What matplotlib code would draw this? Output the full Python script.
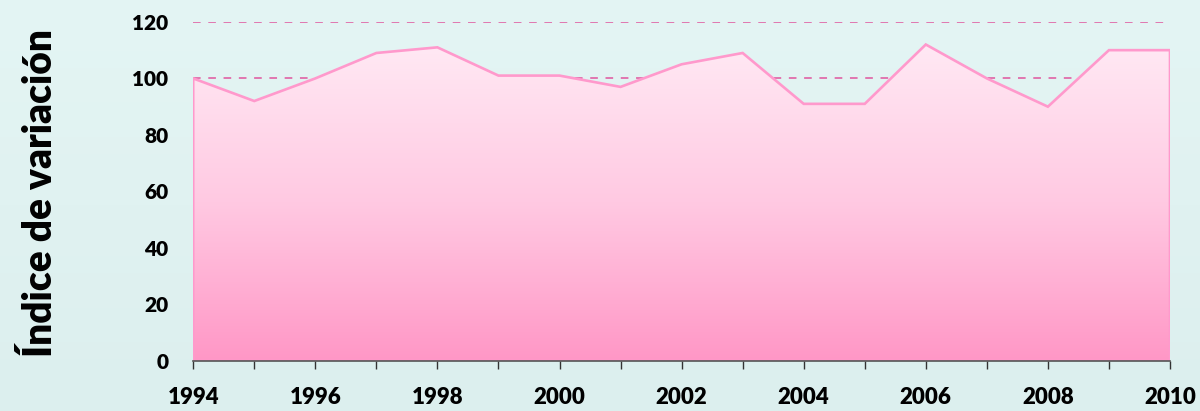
import matplotlib.pyplot as plt
from matplotlib.colors import LinearSegmentedColormap
from matplotlib.patches import Polygon
import numpy as np

# Yearly variation index
years = [1994, 1995, 1996, 1997, 1998, 1999, 2000, 2001, 2002,
         2003, 2004, 2005, 2006, 2007, 2008, 2009, 2010]
index = [100, 92, 100, 109, 111, 101, 101, 97, 105,
         109, 91, 91, 112, 100, 90, 110, 110]

yticks = [0, 20, 40, 60, 80, 100, 120]
xticks = list(range(1994, 2011, 2))

plt.rcParams['font.family'] = ['Lato', 'DejaVu Sans']

fig = plt.figure(figsize=(12, 4.11), dpi=100)

# soft mint background
bg = fig.add_axes([0, 0, 1, 1], zorder=-10)
bg_cmap = LinearSegmentedColormap.from_list('bg', ['#dcefee', '#e4f5f4'])
bg.imshow(np.linspace(0, 1, 256).reshape(-1, 1), aspect='auto', cmap=bg_cmap,
          origin='lower', extent=[0, 1, 0, 1])
bg.axis('off')

ax = fig.add_axes([0.161, 0.1217, 0.814, 0.825])
ax.patch.set_alpha(0)

# dashed gridlines behind the area
for y in yticks[1:]:
    ax.axhline(y, color='#e0559e', lw=1.1, ls=(0, (5, 5)), zorder=1)

# vertical pink gradient, clipped to the area under the series
verts = [(years[0], 0)] + list(zip(years, index)) + [(years[-1], 0)]
poly = Polygon(verts, closed=True, facecolor='none', edgecolor='#ff99cc',
               lw=1.9, zorder=3)
ax.add_patch(poly)
fill_cmap = LinearSegmentedColormap.from_list('fill', ['#ff97c6', '#ffc9e2', '#ffe9f4'])
grad = np.linspace(0, 1, 256).reshape(-1, 1)
im = ax.imshow(grad, aspect='auto', cmap=fill_cmap, origin='lower',
               extent=[years[0], years[-1], 0, max(index)], zorder=2)
im.set_clip_path(poly)

ax.set_xlim(years[0], years[-1])
ax.set_ylim(0, 120)

ax.set_xticks(years)
ax.set_xticklabels([str(y) if y in xticks else '' for y in years])
ax.set_yticks(yticks)
ax.tick_params(axis='x', length=6, width=1, color='#333333', pad=13,
               labelsize=16)
ax.tick_params(axis='y', length=0, pad=18, labelsize=15)
for lbl in ax.get_xticklabels() + ax.get_yticklabels():
    lbl.set_fontweight('heavy')

for side in ['top', 'right', 'left']:
    ax.spines[side].set_visible(False)
ax.spines['bottom'].set_color('#555555')
ax.spines['bottom'].set_linewidth(1.2)
ax.spines['bottom'].set_zorder(4)

fig.text(0.034, 0.53, 'Índice de variación', rotation=90, fontsize=28,
         fontweight='heavy', ha='center', va='center')

fig.savefig('out.png', dpi=100)
